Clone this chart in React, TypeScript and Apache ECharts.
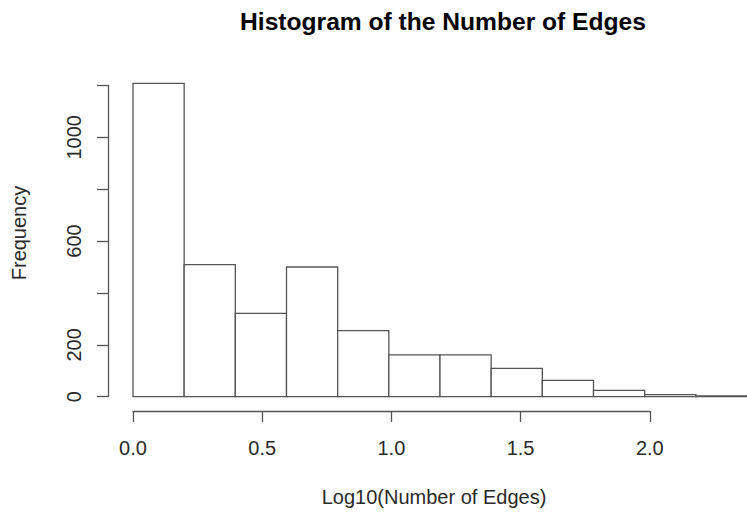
import React, { useEffect, useRef } from "react";
import * as echarts from "echarts";

// Histogram bins (Log10 of number of edges) and frequencies
const binEdges: number[] = [0, 0.2, 0.4, 0.6, 0.8, 1.0, 1.2, 1.4, 1.6, 1.8, 2.0, 2.2, 2.4];
const frequencies: number[] = [1208, 509, 321, 500, 255, 161, 161, 109, 63, 24, 8, 3];
const yTicks: number[] = [0, 200, 400, 600, 800, 1000, 1200];
const yTickLabels: string[] = ["0", "200", "", "600", "", "1000", ""];
const xTickLabels: string[] = ["0.0", "0.5", "1.0", "1.5", "2.0"];

const titleText = "Histogram of the Number of Edges";
const xTitle = "Log10(Number of Edges)";
const yTitle = "Frequency";

const FONT = "'Liberation Sans', Arial, sans-serif";
const LINE = "#555";
const TEXT = "#2a2a2a";

export default function App() {
  const ref = useRef<HTMLDivElement>(null);
  useEffect(() => {
    if (!ref.current) return;
    const chart = echarts.init(ref.current, undefined, { renderer: "svg" });
    const histData = frequencies.map((f, i) => [binEdges[i], binEdges[i + 1], f]);
    const pxPerX = 258.4;
    const pxPerY = 0.2594;
    const base = 396.7;
    const xAxisY = 411;
    const option: any = {
      animation: false,
      backgroundColor: "#fff",
      grid: [
        { left: 133, width: 2.4 * pxPerX, top: base - 1250 * pxPerY, height: 1250 * pxPerY },
        { left: 133, width: 2.0 * pxPerX, top: xAxisY - 100, height: 100 },
        { left: 108, width: 10, top: base - 1200 * pxPerY, height: 1200 * pxPerY },
      ],
      xAxis: [
        { gridIndex: 0, type: "value", min: 0, max: 2.4, show: false },
        {
          gridIndex: 1,
          type: "value",
          min: 0,
          max: 2,
          interval: 0.5,
          axisLine: { show: true, lineStyle: { color: LINE, width: 1.3 } },
          axisTick: { show: true, inside: false, length: 11, lineStyle: { color: LINE, width: 1.3 } },
          axisLabel: {
            show: true,
            margin: 27,
            fontSize: 20,
            fontFamily: FONT,
            color: TEXT,
            formatter: (v: number) => {
              const i = Math.round(v / 0.5);
              return xTickLabels[i] ?? "";
            },
          },
          splitLine: { show: false },
        },
        { gridIndex: 2, type: "value", min: 0, max: 1, show: false },
      ],
      yAxis: [
        { gridIndex: 0, type: "value", min: 0, max: 1250, show: false },
        { gridIndex: 1, type: "value", min: 0, max: 1, show: false },
        {
          gridIndex: 2,
          type: "value",
          min: 0,
          max: 1200,
          interval: 200,
          axisLine: { show: true, lineStyle: { color: LINE, width: 1.3 } },
          axisTick: { show: true, inside: false, length: 11, lineStyle: { color: LINE, width: 1.3 } },
          axisLabel: {
            show: true,
            rotate: 90,
            margin: 24,
            fontSize: 20,
            fontFamily: FONT,
            color: TEXT,
            formatter: (v: number) => {
              const i = yTicks.indexOf(v);
              return i >= 0 ? yTickLabels[i] : "";
            },
          },
          splitLine: { show: false },
        },
      ],
      series: [
        {
          type: "custom",
          xAxisIndex: 0,
          yAxisIndex: 0,
          clip: false,
          data: histData,
          encode: { x: [0, 1], y: 2 },
          renderItem: (params: any, api: any) => {
            const p0 = api.coord([api.value(0), api.value(2)]);
            const p1 = api.coord([api.value(1), 0]);
            return {
              type: "rect",
              shape: { x: p0[0], y: p0[1], width: p1[0] - p0[0], height: p1[1] - p0[1] },
              style: { fill: "#fff", stroke: LINE, lineWidth: 1.3 },
            };
          },
        },
      ],
      graphic: [
        {
          type: "text",
          x: 443,
          y: 21,
          style: {
            text: titleText,
            font: `bold 24.6px ${FONT}`,
            fill: "#000",
            align: "center",
            verticalAlign: "middle",
          },
        },
        {
          type: "text",
          x: 434,
          y: 497,
          style: {
            text: xTitle,
            font: `20px ${FONT}`,
            fill: TEXT,
            align: "center",
            verticalAlign: "middle",
          },
        },
        {
          type: "text",
          x: 19,
          y: 233,
          rotation: Math.PI / 2,
          style: {
            text: yTitle,
            font: `20px ${FONT}`,
            fill: TEXT,
            align: "center",
            verticalAlign: "middle",
          },
        },
      ],
    };
    chart.setOption(option);
    return () => chart.dispose();
  }, []);
  return (
    <div
      ref={ref}
      style={{ position: "fixed", left: 0, top: 0, width: 747, height: 515, background: "#fff" }}
    />
  );
}
